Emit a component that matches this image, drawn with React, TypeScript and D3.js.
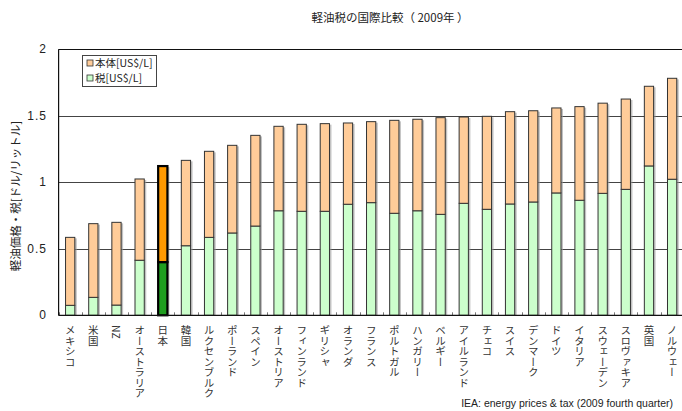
import React from "react";
import * as d3 from "d3";

// 軽油価格の内訳（US$/L, 2009年第4四半期）
const countries: string[] = [
  "メキシコ", "米国", "NZ", "オーストラリア", "日本", "韓国", "ルクセンブルク",
  "ポーランド", "スペイン", "オーストリア", "フィンランド", "ギリシャ", "オランダ",
  "フランス", "ポルトガル", "ハンガリー", "ベルギー", "アイルランド", "チェコ",
  "スイス", "デンマーク", "ドイツ", "イタリア", "スウェーデン", "スロヴァキア",
  "英国", "ノルウェー",
];

// 税 [US$/L]
const taxValues: number[] = [
  0.075, 0.135, 0.077, 0.414, 0.4, 0.523, 0.586,
  0.619, 0.671, 0.786, 0.782, 0.782, 0.835,
  0.847, 0.767, 0.786, 0.759, 0.842, 0.797,
  0.837, 0.852, 0.92, 0.865, 0.917, 0.947,
  1.123, 1.023,
];

// 本体 [US$/L]（税抜き価格）
const baseValues: number[] = [
  0.511, 0.554, 0.622, 0.611, 0.722, 0.642, 0.647,
  0.659, 0.682, 0.635, 0.654, 0.659, 0.611,
  0.609, 0.699, 0.688, 0.727, 0.649, 0.699,
  0.694, 0.686, 0.639, 0.704, 0.678, 0.679,
  0.599, 0.759,
];

const yTicks: number[] = [0, 0.5, 1, 1.5, 2];
const yTickLabels: string[] = ["0", "0.5", "1", "1.5", "2"];

const seriesNames: string[] = ["本体[US$/L]", "税[US$/L]"];
const highlight = "日本";

const W = 682;
const H = 411;
const jpFont = "'Noto Sans CJK JP', 'Noto Sans', sans-serif";
const latinFont = "'Liberation Sans', Arial, sans-serif";

export default function App() {
  const x = d3.scaleBand<string>().domain(countries).range([58.6, 683.7]).padding(0);
  const y = d3.scaleLinear().domain([0, 2]).range([315.3, 49.3]);
  const barW = x.bandwidth() * 0.4;

  const rows = countries.map((c, i) => ({ c, tax: taxValues[i], base: baseValues[i] }));
  const stack = d3.stack<{ c: string; tax: number; base: number }>().keys(["tax", "base"]);
  const layers = stack(rows);

  const plotLeft = x.range()[0];
  const plotRight = W;

  return (
    <svg
      width={W}
      height={H}
      style={{ position: "absolute", left: 0, top: 0, background: "#fff" }}
    >
      {/* title */}
      <text
        x={390}
        y={22}
        textAnchor="middle"
        fontFamily={jpFont}
        fontSize={11.5}
        fill="#222"
      >
        軽油税の国際比較（ 2009年 ）
      </text>

      {/* grid lines */}
      {yTicks.map((t) => (
        <line
          key={t}
          x1={plotLeft}
          x2={plotRight}
          y1={Math.round(y(t)) + 0.5}
          y2={Math.round(y(t)) + 0.5}
          stroke={t === 0 || t === 2 ? "#111" : "#444"}
          strokeWidth={1}
        />
      ))}

      {/* y tick labels */}
      {yTicks.map((t, i) => (
        <text
          key={t}
          x={47}
          y={y(t) + 4}
          textAnchor="end"
          fontFamily={latinFont}
          fontSize={12}
          letterSpacing={1}
          fill="#222"
        >
          {yTickLabels[i]}
        </text>
      ))}

      {/* y axis title */}
      <text
        transform={`translate(20, 196) rotate(-90)`}
        textAnchor="middle"
        fontFamily={jpFont}
        fontSize={11.5}
        fill="#222"
      >
        軽油価格・税[ドル/リットル]
      </text>

      {/* category ticks */}
      {countries.map((c) => (
        <line
          key={"tk" + c}
          x1={Math.round(x(c)!) + 0.5}
          x2={Math.round(x(c)!) + 0.5}
          y1={y(0)}
          y2={y(0) - 3}
          stroke="#777"
        />
      ))}

      {/* bar shadows */}
      {rows.map((r) => (
        <rect
          key={"sh" + r.c}
          x={x(r.c)! + (x.bandwidth() - barW) / 2 + 2}
          y={y(r.tax + r.base) + 1}
          width={barW}
          height={y(0) - y(r.tax + r.base) - 1}
          fill="#9a9a9a"
          opacity={0.6}
        />
      ))}

      {/* stacked bars */}
      {layers.map((layer, li) =>
        layer.map((d) => {
          const c = d.data.c;
          const isJp = c === highlight;
          const fill =
            li === 0 ? (isJp ? "#1f9e1f" : "#ccffcc") : isJp ? "#ff9900" : "#ffcc99";
          return (
            <rect
              key={li + c}
              x={x(c)! + (x.bandwidth() - barW) / 2}
              y={y(d[1])}
              width={barW}
              height={y(d[0]) - y(d[1])}
              fill={fill}
              stroke={isJp ? "#000" : "#333"}
              strokeWidth={isJp ? 2.2 : 1}
            />
          );
        })
      )}

      {/* axes */}
      <line x1={plotLeft} x2={plotLeft} y1={y(2)} y2={y(0)} stroke="#111" strokeWidth={1.2} />
      <line x1={plotLeft} x2={plotRight} y1={y(0)} y2={y(0)} stroke="#111" strokeWidth={1.2} />

      {/* category labels (vertical) */}
      {countries.map((c) => (
        <text
          key={"lb" + c}
          x={x(c)! + x.bandwidth() / 2}
          y={325}
          fontFamily={jpFont}
          fontSize={10.5}
          fill="#333"
          style={{ writingMode: "vertical-rl", textOrientation: "mixed" }}
        >
          {c}
        </text>
      ))}

      {/* legend */}
      <g>
        <rect x={82.5} y={55.5} width={74} height={31} fill="#fff" stroke="#444" />
        {seriesNames.map((s, i) => (
          <g key={s} transform={`translate(87, ${63 + i * 15})`}>
            <rect
              x={0}
              y={-3}
              width={6}
              height={6}
              fill={i === 0 ? "#ffcc99" : "#ccffcc"}
              stroke="#333"
              strokeWidth={0.8}
            />
            <text x={8} y={4} fontFamily={jpFont} fontSize={10.5} fill="#222">
              {s}
            </text>
          </g>
        ))}
      </g>

      {/* source note */}
      <text
        x={673}
        y={407}
        textAnchor="end"
        fontFamily={latinFont}
        fontSize={10.5}
        fill="#222"
      >
        IEA: energy prices &amp; tax (2009 fourth quarter)
      </text>
    </svg>
  );
}
